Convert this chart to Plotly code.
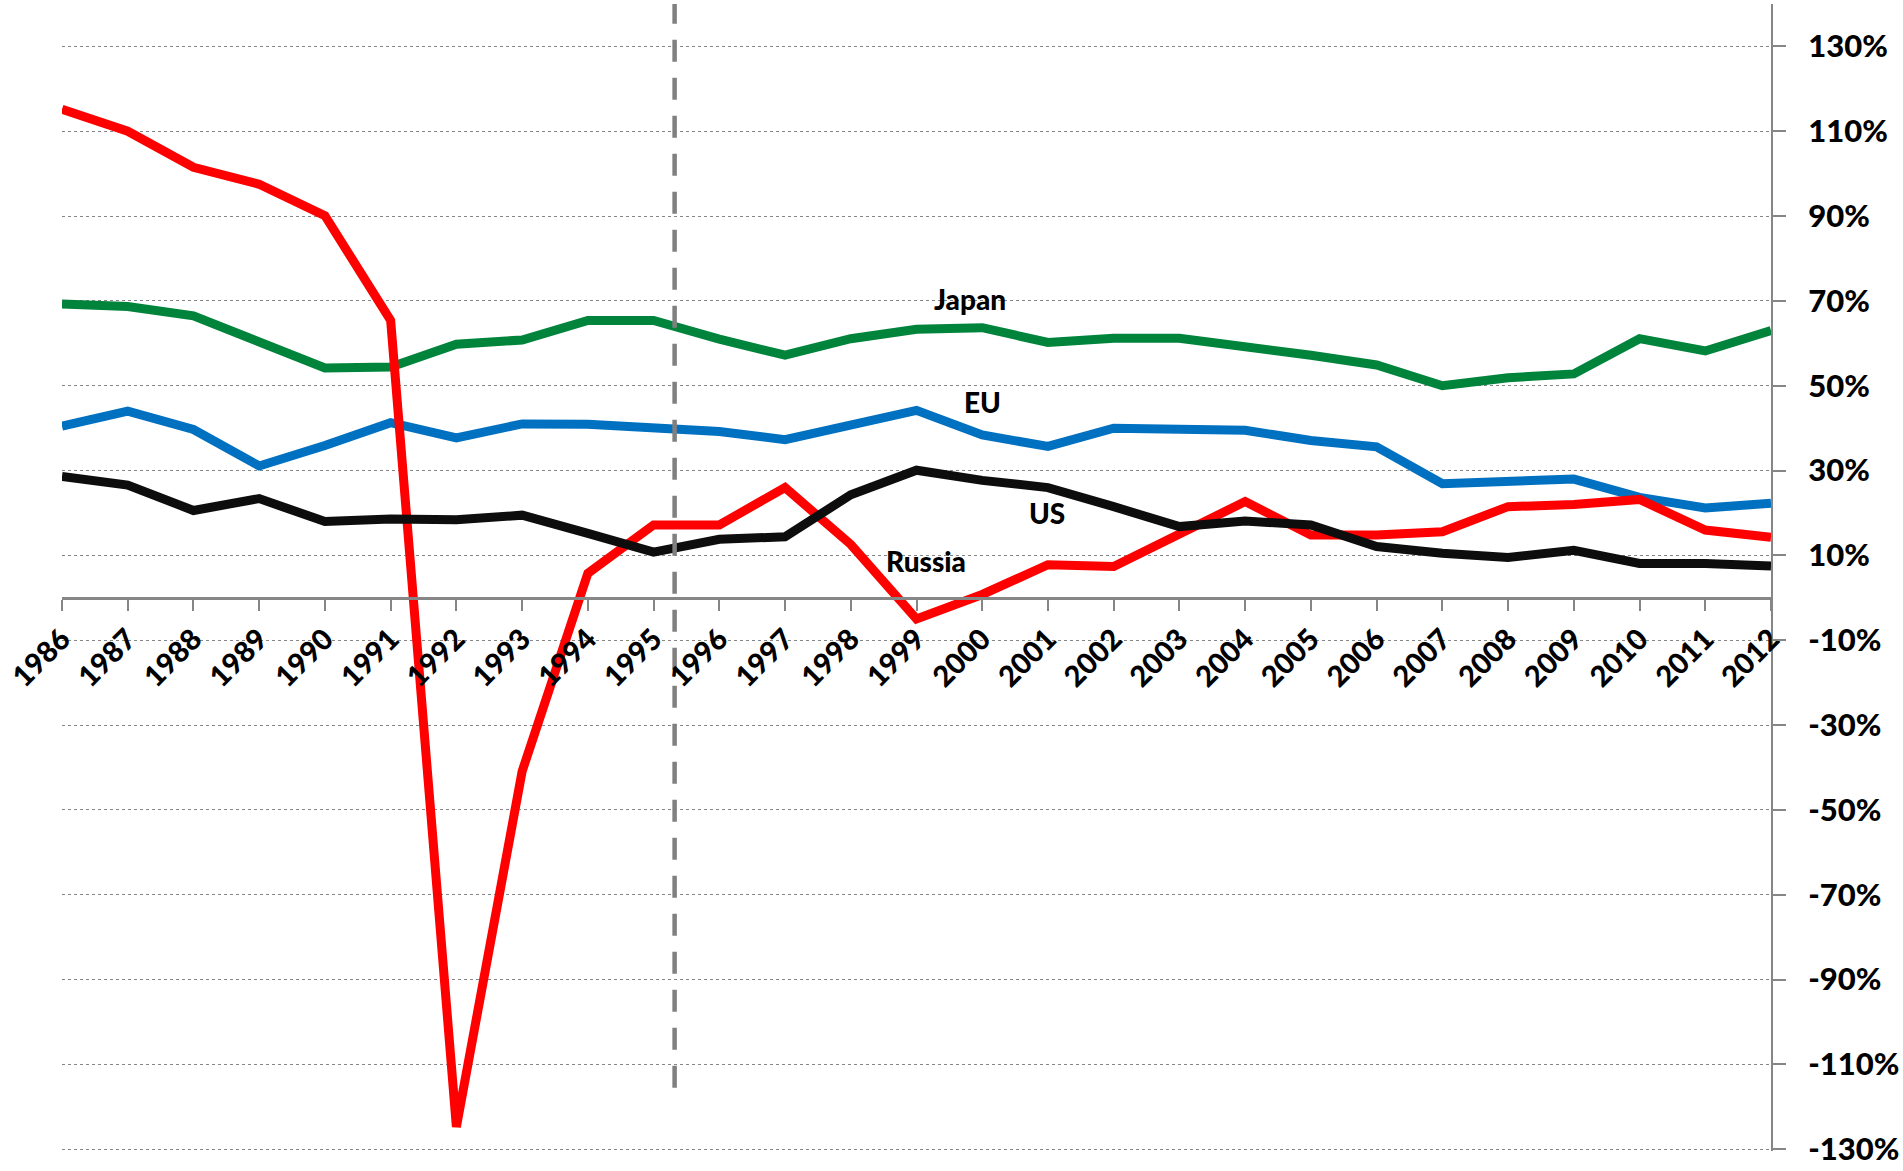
import plotly.graph_objects as go

years = list(range(1986, 2013))
year_labels = [str(y) for y in years]

russia = [115.2, 110.0, 101.5, 97.5, 90.1, 65.4, -124.7, -40.9, 5.8, 17.2, 17.2, 26.0, 12.6, -5.0,
          0.8, 7.8, 7.4, 14.8, 22.7, 14.8, 14.8, 15.6, 21.5, 22.0, 23.2, 16.0, 14.3]
japan = [69.3, 68.7, 66.5, 60.5, 54.2, 54.4, 59.8, 60.8, 65.4, 65.4, 61.0, 57.2, 61.1, 63.3,
         63.7, 60.2, 61.2, 61.2, 59.3, 57.2, 54.9, 50.0, 51.9, 52.8, 61.1, 58.2, 63.0]
eu = [40.5, 44.0, 39.7, 31.1, 35.9, 41.3, 37.7, 41.0, 40.9, 40.1, 39.2, 37.3, 40.5, 44.2,
      38.4, 35.7, 40.0, 40.0, 39.5, 37.1, 35.6, 26.9, 27.7, 28.0, 23.7, 21.2, 22.3]
us = [28.6, 26.6, 20.6, 23.4, 18.0, 18.6, 18.4, 19.5, 15.2, 10.8, 13.8, 14.4, 24.3, 30.1,
      27.7, 26.0, 21.5, 16.8, 18.1, 17.2, 12.1, 10.5, 9.5, 11.2, 8.1, 8.1, 7.5]

y_ticks = list(range(-130, 131, 20))
y_tick_labels = [f"{v}%" for v in y_ticks]
y_range = [-130.4, 140]

divider_year = 1995.32
divider_span = [-115.5, 140]

series_labels = [("Japan", 1999.82, 70.4), ("EU", 2000.01, 46.1), ("US", 2000.99, 19.9), ("Russia", 1999.15, 8.6)]

FONT = "Lato"
LW = 9

fig = go.Figure()
fig.add_trace(go.Scatter(x=years, y=japan, mode="lines", line=dict(color="#00843C", width=LW), name="Japan"))
fig.add_trace(go.Scatter(x=years, y=eu, mode="lines", line=dict(color="#0070C0", width=LW), name="EU"))
fig.add_trace(go.Scatter(x=years, y=russia, mode="lines", line=dict(color="#FF0000", width=LW), name="Russia"))
fig.add_trace(go.Scatter(x=years, y=us, mode="lines", line=dict(color="#0D0D0D", width=LW), name="US"))
fig.add_trace(go.Scatter(x=[divider_year, divider_year], y=divider_span, mode="lines",
                         line=dict(color="#808080", width=4.5, dash="22px,16px"), name="divider"))

for text, x, y in series_labels:
    fig.add_annotation(x=x, y=y, text=text, showarrow=False, xanchor="center", yanchor="middle",
                       font=dict(family=FONT, size=28, color="#000000", weight=900))

zero_pos = (0 - y_range[0]) / (y_range[1] - y_range[0])

fig.update_layout(
    width=1903, height=1171,
    margin=dict(l=61, r=131, t=4, b=16),
    paper_bgcolor="white", plot_bgcolor="white",
    showlegend=False, hovermode=False,
    xaxis=dict(
        range=[1986, 2012], tickvals=years, ticktext=year_labels, tickangle=-45,
        anchor="free", position=zero_pos,
        showline=True, linecolor="#868686", linewidth=2.5,
        ticks="outside", ticklen=11, tickwidth=2, tickcolor="#868686",
        showgrid=False, zeroline=False,
        tickfont=dict(family=FONT, size=29, color="#000000", weight=900),
    ),
    yaxis=dict(
        range=y_range, side="right", tickvals=y_ticks, ticktext=y_tick_labels,
        showline=True, linecolor="#868686", linewidth=2,
        ticks="outside", ticklen=13, tickwidth=2, tickcolor="#868686",
        showgrid=True, gridcolor="#868686", gridwidth=1, griddash="dot",
        zeroline=False, ticklabelstandoff=16, ticklabeloverflow="allow",
        tickfont=dict(family=FONT, size=31, color="#000000", weight=900),
    ),
)

fig.write_html("out.html", config={"displayModeBar": False},
               post_script="document.body.style.margin='0';document.body.style.overflow='hidden';")
